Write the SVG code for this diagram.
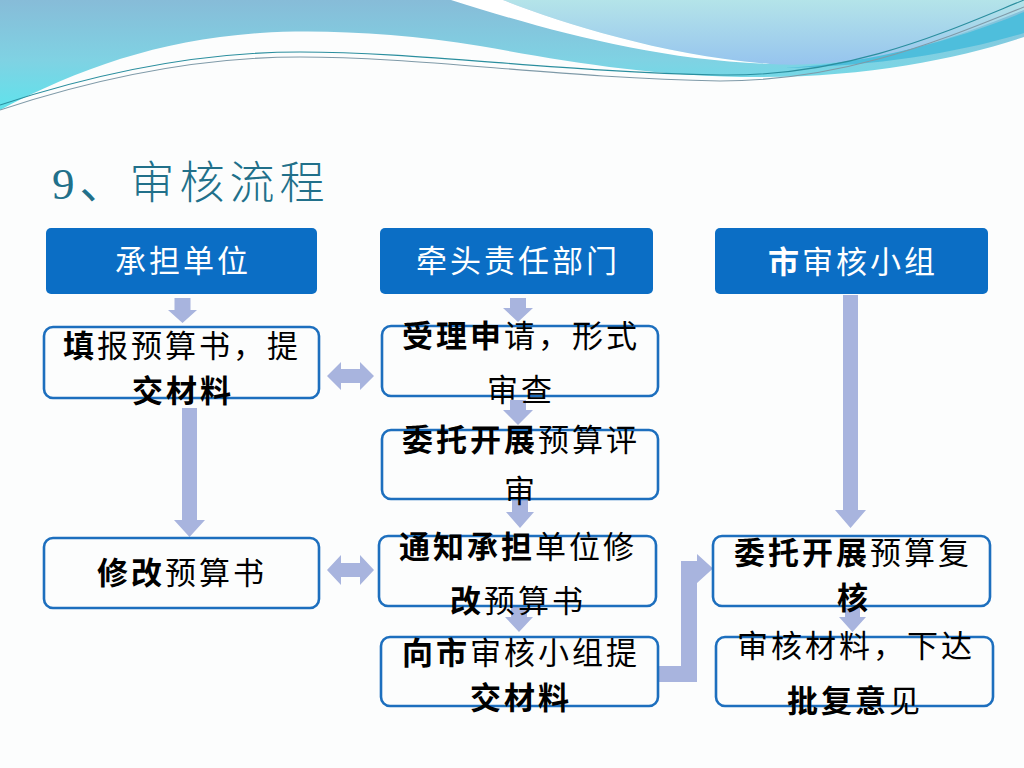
<svg xmlns="http://www.w3.org/2000/svg" width="1024" height="768" viewBox="0 0 1024 768">
<defs>
<linearGradient id="gL" x1="0" y1="0" x2="0" y2="1">
<stop offset="0" stop-color="#87bcd8"/>
<stop offset="0.55" stop-color="#7fd2e3"/>
<stop offset="1" stop-color="#5fe3ec"/>
</linearGradient>
<linearGradient id="gR" x1="0" y1="0" x2="0" y2="1">
<stop offset="0" stop-color="#b4e4e9"/>
<stop offset="1" stop-color="#96c4ee"/>
</linearGradient>
<style>
.hdr{fill:#0b6ec5}
.box{fill:none;stroke:#1d6fbe;stroke-width:2.6}
.arr{fill:#a8b4de}
.ht{font-family:"Noto Sans CJK SC","Noto Sans",sans-serif;font-size:31px;fill:#ffffff;text-anchor:middle;letter-spacing:3px}
.bt{font-family:"Noto Sans CJK SC","Noto Sans",sans-serif;font-size:31px;fill:#000000;text-anchor:middle;letter-spacing:3px}
.b{font-weight:700}
.line{fill:none;stroke-width:1.1}
</style>
</defs>
<rect x="0" y="0" width="1024" height="768" fill="#fcfdfd"/>
<!-- header waves -->
<g id="header">
<path d="M0,0 H1024 V37 C960,58 870,77 760,77 C650,77 560,60 480,46 C400,33 320,29 260,33 C160,40 80,68 0,110 Z" fill="url(#gL)"/>
<path d="M503,0 H1024 V10 C960,35 900,58 830,63 C800,65 785,65 770,64 C660,55 560,22 503,0 Z" fill="url(#gR)"/>
<path d="M451,0 L503,0 C560,22 660,55 770,64 C650,60 540,28 451,0 Z" fill="#ffffff"/>
<path d="M1024,12 V33 C960,52 880,66 785,68 C880,62 960,38 1024,12 Z" fill="#4ebedc"/>
<path class="line" stroke="#2a8e9e" d="M0,105 C100,72 200,52 300,52 C420,52 560,72 720,75 C850,77 950,30 1024,0"/>
<path class="line" stroke="#7f9aa8" d="M0,110 C100,77 200,57 300,57 C420,57 560,78 720,81 C850,81 950,36 1024,7"/>
</g>
<text x="52" y="199" font-family="'Liberation Serif','Noto Sans CJK SC',serif" font-size="45" fill="#21708a" letter-spacing="5">9、<tspan font-family="'Noto Sans CJK SC',sans-serif" font-weight="300">审核流程</tspan></text>
<!-- connectors -->
<g id="connectors">
<path class="arr" d="M174.5,298 H190.5 V310 H197 L182.5,323 L168,310 H174.5 Z"/>
<path class="arr" d="M182,408 H197 V520 H205 L189.5,537 L174,520 H182 Z"/>
<path class="arr" d="M327,376 L341,362 V369 H360 V362 L374,376 L360,390 V383 H341 V390 Z"/>
<path class="arr" d="M327,570 L341,555 V563 H360 V555 L374,570 L360,585 V577 H341 V585 Z"/>
<path class="arr" d="M510,298 H526 V308 H533 L518,322 L503,308 H510 Z"/>
<path class="arr" d="M510,400 H526 V410 H533 L518,425 L503,410 H510 Z"/>
<path class="arr" d="M512,500 H528 V512 H534 L520,528 L506,512 H512 Z"/>
<path class="arr" d="M511,607 H527 V617 H533 L519,632 L505,617 H511 Z"/>
<path class="arr" d="M843,295 H858 V510 H866 L850.5,528 L835,510 H843 Z"/>
<path class="arr" d="M845,608 H860 V617 H866 L852.5,632 L839,617 H845 Z"/>
<path class="arr" d="M657,666 H681 V561 H697 V554 L713,568.5 L697,583 V682 H657 Z"/>
</g>
<!-- nodes -->
<g id="n-chengdan">
<rect class="hdr" x="46" y="228" width="271" height="66" rx="5"/>
<text class="ht" x="183" y="272">承担单位</text>
</g>
<g id="n-qiantou">
<rect class="hdr" x="380" y="228" width="273" height="66" rx="5"/>
<text class="ht" x="518" y="272">牵头责任部门</text>
</g>
<g id="n-shishenhe">
<rect class="hdr" x="715" y="228" width="273" height="66" rx="5"/>
<text class="ht" x="853" y="273"><tspan class="b">市</tspan>审核小组</text>
</g>
<g id="n-tianbao">
<rect class="box" x="44" y="327" width="275" height="71" rx="9"/>
<text class="bt" x="182" y="357"><tspan class="b">填</tspan>报预算书，提</text>
<text class="bt b" x="183" y="402">交材料</text>
</g>
<g id="n-shouli">
<rect class="box" x="382" y="326" width="276" height="70" rx="9"/>
<text class="bt" x="521" y="347"><tspan class="b">受理申</tspan>请，形式</text>
<text class="bt" x="521" y="401">审查</text>
</g>
<g id="n-weituo-pingshen">
<rect class="box" x="382" y="430" width="276" height="69" rx="9"/>
<text class="bt" x="521" y="451"><tspan class="b">委托开展</tspan>预算评</text>
<text class="bt" x="521" y="502">审</text>
</g>
<g id="n-xiugai">
<rect class="box" x="44" y="538" width="275" height="70" rx="9"/>
<text class="bt" x="182" y="584"><tspan class="b">修改</tspan>预算书</text>
</g>
<g id="n-tongzhi">
<rect class="box" x="379" y="536" width="277" height="70" rx="9"/>
<text class="bt" x="518" y="558"><tspan class="b">通知承担</tspan>单位修</text>
<text class="bt" x="518" y="612"><tspan class="b">改</tspan>预算书</text>
</g>
<g id="n-xiangshi">
<rect class="box" x="381" y="637" width="277" height="69" rx="9"/>
<text class="bt" x="521" y="664"><tspan class="b">向市</tspan>审核小组提</text>
<text class="bt b" x="521" y="709">交材料</text>
</g>
<g id="n-weituo-fuhe">
<rect class="box" x="713" y="536" width="277" height="70" rx="9"/>
<text class="bt" x="853" y="564"><tspan class="b">委托开展</tspan>预算复</text>
<text class="bt b" x="854" y="609">核</text>
</g>
<g id="n-shenhe">
<rect class="box" x="716" y="637" width="277" height="69" rx="9"/>
<text class="bt" x="856" y="657">审核材料，下达</text>
<text class="bt" x="855" y="712"><tspan class="b">批复意</tspan>见</text>
</g>
</svg>
